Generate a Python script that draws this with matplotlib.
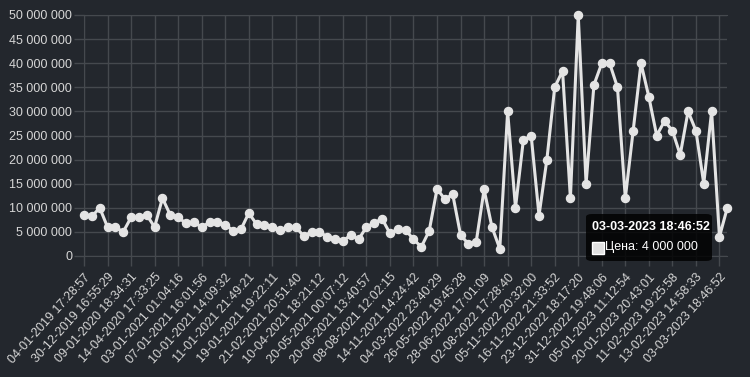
import numpy as np
import matplotlib
matplotlib.use("Agg")
import matplotlib.pyplot as plt
from matplotlib.ticker import FuncFormatter
from matplotlib.patches import FancyBboxPatch, Rectangle

plt.rcParams['font.family'] = ['Liberation Sans', 'DejaVu Sans']

# цены (83 точки), подписи видны только у каждой третьей
prices = [8.5, 8.2, 10, 6, 6, 5, 8, 8, 8.5, 6,
          12, 8.5, 8, 6.8, 7, 6, 7, 7, 6.5, 5.25,
          5.5, 8.9, 6.6, 6.5, 6, 5.4, 6, 6, 4.15, 5,
          5, 4, 3.5, 3.1, 4.35, 3.45, 6, 6.9, 7.7, 4.7,
          5.6, 5.4, 3.45, 1.9, 5.2, 13.9, 11.8, 12.8, 4.35, 2.5,
          3, 13.8, 6, 1.5, 30, 10, 24, 25, 8.4, 20,
          35, 38.4, 12, 50, 15, 35.5, 40, 40, 35, 12,
          26, 40, 33, 25, 28, 26, 21, 30, 26, 15,
          30, 4, 10]
prices = [p * 1e6 for p in prices]

tick_labels = ["04-01-2019 17:28:57", "30-12-2019 16:55:29", "09-01-2020 18:34:31",
               "14-04-2020 17:33:25", "03-01-2021 01:04:16", "07-01-2021 16:01:56",
               "10-01-2021 14:09:32", "11-01-2021 21:49:21", "19-01-2021 19:22:11",
               "21-02-2021 20:51:40", "10-04-2021 18:21:12", "20-05-2021 00:07:12",
               "20-06-2021 13:40:57", "08-08-2021 12:02:15", "14-11-2021 14:24:42",
               "04-03-2022 23:40:29", "26-05-2022 19:45:28", "28-06-2022 17:01:09",
               "02-08-2022 17:28:40", "05-11-2022 20:32:00", "16-11-2022 21:33:52",
               "23-12-2022 18:17:20", "31-12-2022 19:48:06", "05-01-2023 11:12:54",
               "20-01-2023 20:43:01", "11-02-2023 19:25:58", "13-02-2023 14:58:33",
               "03-03-2023 18:46:52"]
tick_step = 3

tooltip_title = "03-03-2023 18:46:52"
tooltip_text = "Цена: 4 000 000"

bg = '#23272d'
grid_c = '#45494e'
text_c = '#d6d6d6'
line_c = '#e4e4e4'

W, H = 750, 377
fig = plt.figure(figsize=(W / 100, H / 100), dpi=100, facecolor=bg)
ax = fig.add_axes([84 / W, 1 - 256 / H, (727.3 - 84) / W, (256 - 15) / H])
ax.set_facecolor(bg)

x = np.arange(len(prices))
ax.plot(x, prices, color=line_c, lw=2.2, marker='o', ms=5.8,
        markerfacecolor=line_c, markeredgecolor=line_c, zorder=3, clip_on=False)

ax.set_xlim(0, len(prices) - 1)
ax.set_ylim(0, 50e6)
ax.set_yticks(np.arange(0, 50e6 + 1, 5e6))
ax.yaxis.set_major_formatter(FuncFormatter(lambda v, p: f"{int(v):,}".replace(",", " ")))

ax.set_xticks(np.arange(0, len(tick_labels) * tick_step, tick_step))
ax.set_xticklabels(tick_labels, rotation=48, ha='right', va='top',
                   rotation_mode='anchor')

ax.grid(True, color=grid_c, lw=1)
ax.set_axisbelow(True)
ax.tick_params(colors=grid_c, length=7, width=1, labelsize=9, labelcolor=text_c)
ax.tick_params(axis='x', pad=4)
ax.tick_params(axis='y', pad=1.5)
for s in ['left', 'bottom', 'top']:
    ax.spines[s].set_color(grid_c)
ax.spines['right'].set_visible(False)

# всплывающая подсказка
def px(xp, yp):
    return xp / W, 1 - yp / H

bx, by = px(586, 261)
box = FancyBboxPatch((bx, by), 126 / W, 47 / H,
                     boxstyle="round,pad=0,rounding_size=0.008",
                     transform=fig.transFigure, facecolor='black', alpha=0.82,
                     edgecolor='none', zorder=10)
fig.add_artist(box)
tx, ty = px(592, 227)
fig.text(tx, ty, tooltip_title, color='white', fontsize=9, fontweight='bold',
         va='center', ha='left', zorder=11)
sx, sy = px(591.5, 253.5)
fig.add_artist(Rectangle((sx, sy), 12 / W, 12 / H, transform=fig.transFigure,
                         facecolor='#e0e0e0', edgecolor='white', lw=1, zorder=11))
tx, ty = px(605, 247)
fig.text(tx, ty, tooltip_text, color='white', fontsize=9, va='center',
         ha='left', zorder=11)

fig.savefig('out.png', dpi=100, facecolor=bg)
